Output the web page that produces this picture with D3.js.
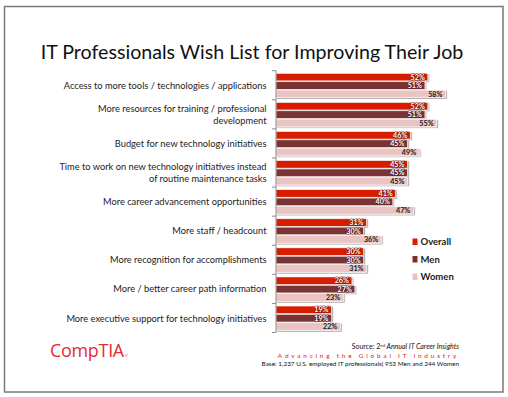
<!DOCTYPE html>
<html><head><meta charset="utf-8">
<script src="https://cdn.jsdelivr.net/npm/d3@7"></script>
<style>
html,body{margin:0;padding:0;background:#fff;}
svg{display:block;}
text{font-family:Lato,"Open Sans",sans-serif;}
</style></head>
<body>
<svg id="c" width="508" height="397"></svg>
<script>
const categories = [
  "Access to more tools / technologies / applications",
  "More resources for training / professional\ndevelopment",
  "Budget for new technology initiatives",
  "Time to work on new technology initiatives instead\nof routine maintenance tasks",
  "More career advancement opportunities",
  "More staff / headcount",
  "More recognition for accomplishments",
  "More / better career path information",
  "More executive support for technology initiatives"
];
const series = ["Overall", "Men", "Women"];
const overall = [52, 52, 46, 45, 41, 31, 30, 26, 19];
const men     = [51, 51, 45, 45, 40, 30, 30, 27, 19];
const women   = [58, 55, 49, 45, 47, 36, 31, 23, 22];
const seriesValues = [overall, men, women];
const colors = ["#d81f02", "#7a3030", "#eac3c3"];
const labelColors = ["#ffffff", "#ffffff", "#1a1a1a"];

const svg = d3.select("#c");
svg.append("rect").attr("x",4.5).attr("y",6.5).attr("width",498.5).attr("height",385.5)
  .attr("fill","#fff").attr("stroke","#7a7a7a").attr("stroke-width",1.5);

// title
const title = svg.append("text").attr("x",252).attr("y",58.5).attr("text-anchor","middle")
  .attr("fill","#111").style("font-size","20px")
  .text("IT Professionals Wish List for Improving Their Job");
function fit(sel, target){
  const w = sel.node().getComputedTextLength();
  const fs = parseFloat(sel.style("font-size"));
  sel.style("font-size", (fs*target/w)+"px");
}
fit(title, 423);

const x = d3.scaleLinear().domain([0,100]).range([276, 568]);
const y = d3.scaleBand().domain(categories).range([70.7, 332.5]).padding(0);
const ys = d3.scaleBand().domain(series).range([2.6, 27]).paddingInner(0.1);

const defs = svg.append("defs");
const f = defs.append("filter").attr("id","sh").attr("x","-10%").attr("y","-30%").attr("width","130%").attr("height","180%");
f.append("feDropShadow").attr("dx",1.2).attr("dy",1).attr("stdDeviation",0.6).attr("flood-color","#000").attr("flood-opacity",0.35);

const g = svg.append("g");
categories.forEach((c, i) => {
  series.forEach((s, j) => {
    const v = seriesValues[j][i];
    g.append("rect")
      .attr("x", x(0)).attr("y", y(c) + ys(s))
      .attr("width", x(v) - x(0)).attr("height", ys.bandwidth())
      .attr("fill", colors[j]).attr("stroke","#fff").attr("stroke-width",0.6)
      .attr("filter","url(#sh)");
  });
});
categories.forEach((c, i) => {
  series.forEach((s, j) => {
    const v = seriesValues[j][i];
    const t = g.append("text")
      .attr("x", x(v) - 3).attr("y", y(c) + ys(s) + ys.bandwidth()/2 + 2.6)
      .attr("text-anchor","end").attr("fill", labelColors[j])
      .style("font-size","7.2px").style("font-weight","700")
      .text(v + "%");
    if (j < 2) t.attr("stroke","#3a0a0a").attr("stroke-width",1.2).attr("paint-order","stroke").attr("stroke-opacity",0.6);
  });
});

// axis
const axisG = svg.append("g").attr("transform", `translate(${x(0)},0)`);
axisG.append("line").attr("x1",0).attr("x2",0).attr("y1",y.range()[0]).attr("y2",y.range()[1]).attr("stroke","#8a8a8a");
const bounds = categories.map(c => y(c)).concat([y.range()[1]]);
axisG.selectAll(".tk").data(bounds).join("line")
  .attr("x1",-4).attr("x2",0).attr("y1",d=>d).attr("y2",d=>d).attr("stroke","#8a8a8a");

// category labels
const catG = svg.append("g");
const catTexts = [];
categories.forEach(c => {
  const lines = c.split("\n");
  const cy = y(c) + y.bandwidth()/2;
  const lh = 12.7;
  lines.forEach((ln, k) => {
    const t = catG.append("text").attr("x", 266.5)
      .attr("y", cy + (k - (lines.length-1)/2)*lh + 3.6)
      .attr("text-anchor","end").attr("fill","#222").style("font-size","10px").text(ln);
    catTexts.push(t);
  });
});
{
  const w = catTexts[0].node().getComputedTextLength();
  const fs = 10*203/w;
  catTexts.forEach(t => t.style("font-size", fs+"px"));
}

// legend
const lg = svg.append("g");
series.forEach((s, j) => {
  const ly = 242 + j*17.5;
  lg.append("rect").attr("x",412.5).attr("y",ly-3.5).attr("width",5).attr("height",6.5).attr("fill",colors[j]);
  lg.append("text").attr("x",420.5).attr("y",ly+3.3).attr("fill","#222")
    .style("font-size","9.5px").style("font-weight","700").text(s);
});

// logo
const logo = svg.append("text").attr("x",50).attr("y",357).attr("fill","#e42a34")
  .style("font-size","18px").style("font-weight","400").style("font-family","'Open Sans',Lato,sans-serif").style("letter-spacing","-0.3px").text("CompTIA");
fit(logo, 74);
svg.append("text").attr("x",125).attr("y",357).attr("fill","#e42a34").style("font-size","3.5px").text("®");

// footer
const src = svg.append("text").attr("x",459).attr("y",349).attr("text-anchor","end")
  .attr("fill","#111").style("font-size","7px").style("font-style","italic");
src.append("tspan").style("font-style","normal").text("Source: 2");
src.append("tspan").attr("dy",-2.5).style("font-size","4.5px").text("nd");
src.append("tspan").attr("dy",2.5).text(" Annual IT Career Insights");
svg.append("text").attr("x",459).attr("y",357.5).attr("text-anchor","end")
  .attr("fill","#e01b1b").style("font-size","6.5px").style("letter-spacing","2.75px")
  .text("Advancing the Global IT Industry");
const base = svg.append("text").attr("x",459).attr("y",365.5).attr("text-anchor","end")
  .attr("fill","#111").style("font-size","7px")
  .text("Base: 1,237 U.S. employed IT professionals| 953 Men and 244 Women");
fit(base, 198);
</script>
</body></html>
